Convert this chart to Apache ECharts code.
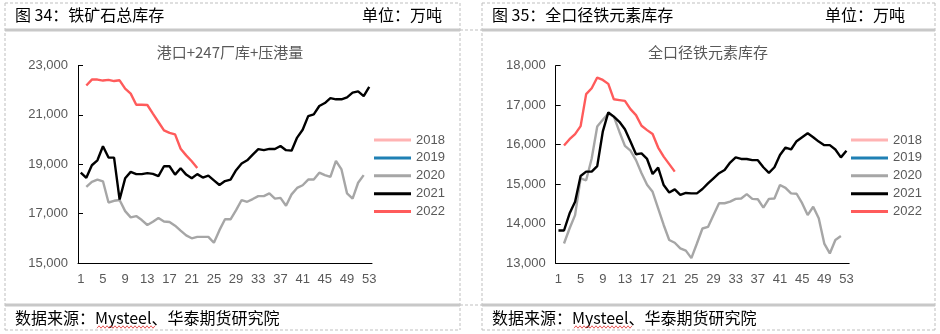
<!DOCTYPE html>
<html>
<head>
<meta charset="utf-8">
<script src="https://cdn.jsdelivr.net/npm/echarts@6/dist/echarts.min.js"></script>
<style>
  html, body { margin: 0; padding: 0; background: #fff; }
  #chart { width: 940px; height: 334px; }
</style>
</head>
<body>
<div id="chart"></div>
<script>
// Week numbers on the category axis
const weeks = Array.from({ length: 53 }, (_, i) => String(i + 1));
const years = ['2018', '2019', '2020', '2021', '2022'];
const yearColors = ['#FFB3B3', '#1F80B4', '#A6A6A6', '#000000', '#FF5B5B'];

// 铁矿石总库存（港口+247厂库+压港量），万吨, by week
const ore2018 = [];
const ore2019 = [];
const ore2020 = [null,
  18080, 18290, 18380, 18310, 17450, 17520, 17550, 17100, 16850, 16900,
  16740, 16540, 16670, 16820, 16680, 16660, 16510, 16310, 16120, 16000,
  16060, 16060, 16060, 15820, 16330, 16770, 16770, 17140, 17550, 17480,
  17590, 17710, 17710, 17820, 17610, 17640, 17320, 17780, 18040, 18150,
  18380, 18380, 18660, 18560, 18490, 19140, 18790, 17820, 17610, 18250,
  18560];
const ore2021 = [
  18660, 18450, 18960, 19160, 19730, 19270, 19270, 17570, 18430, 18690,
  18600, 18600, 18640, 18610, 18520, 18920, 18920, 18580, 18840, 18580,
  18430, 18600, 18460, 18540, 18350, 18160, 18320, 18380, 18760, 19030,
  19160, 19390, 19610, 19570, 19620, 19620, 19740, 19570, 19550, 20080,
  20400, 20950, 21020, 21360, 21480, 21680, 21630, 21630, 21710, 21900,
  21950, 21760, 22130];
const ore2022 = [null,
  22190, 22430, 22430, 22390, 22420, 22370, 22400, 22060, 21860, 21410,
  21410, 21400, 21050, 20710, 20370, 20270, 20210, 19630, 19360, 19120,
  18850];

// 全口径铁元素库存，万吨, by week
const fe2018 = [];
const fe2019 = [];
const fe2020 = [null,
  13500, 13880, 14220, 15150, 15100, 15650, 16460, 16630, 16790, 16710,
  16330, 15970, 15850, 15610, 15280, 14990, 14810, 14390, 13970, 13590,
  13520, 13380, 13320, 13130, 13500, 13880, 13920, 14220, 14520, 14520,
  14560, 14630, 14640, 14750, 14630, 14620, 14410, 14630, 14640, 14980,
  14910, 14770, 14760, 14520, 14220, 14430, 14140, 13500, 13250, 13590,
  13690];
const fe2021 = [
  13830, 13830, 14260, 14560, 15210, 15320, 15320, 15460, 16330, 16820,
  16710, 16580, 16390, 16080, 15760, 15780, 15640, 15260, 15420, 14980,
  14790, 14870, 14730, 14780, 14770, 14770, 14880, 15020, 15150, 15280,
  15360, 15550, 15680, 15640, 15640, 15610, 15610, 15430, 15290, 15430,
  15740, 15930, 15880, 16090, 16190, 16290, 16190, 16080, 15990, 15990,
  15880, 15680, 15850];
const fe2022 = [null,
  15980, 16140, 16270, 16470, 17280, 17430, 17700, 17640, 17540, 17150,
  17130, 17110, 16900, 16750, 16480, 16370, 16270, 15930, 15700, 15510,
  15320];

const oreSeries = [ore2018, ore2019, ore2020, ore2021, ore2022];
const feSeries = [fe2018, fe2019, fe2020, fe2021, fe2022];

const TXT = '#595959';
const FONT = '"Noto Sans CJK SC", "Liberation Sans", sans-serif';
const BORDER = '#BFBFBF';

function xAxisFor(gridIndex) {
  return {
    type: 'category', gridIndex, data: weeks, boundaryGap: true,
    axisLine: { lineStyle: { color: '#000', width: 1 } },
    axisTick: { inside: true, length: 4, interval: 0, lineStyle: { color: '#000' } },
    axisLabel: { interval: 3, margin: 10, color: TXT, fontSize: 13, fontFamily: 'Liberation Sans' },
    splitLine: { show: false }
  };
}
function yAxisFor(gridIndex, min, max, interval) {
  return {
    type: 'value', gridIndex, min, max, interval,
    axisLine: { show: true, lineStyle: { color: '#000', width: 1 } },
    axisTick: { show: true, inside: true, length: 5, lineStyle: { color: '#000' } },
    axisLabel: {
      margin: 10, color: TXT, fontSize: 13, fontFamily: 'Liberation Sans',
      formatter: v => v.toLocaleString('en-US')
    },
    splitLine: { show: false }
  };
}
function legendAt(left) {
  return {
    orient: 'vertical', left, top: 128, itemWidth: 37, itemHeight: 3, itemGap: 3.9,
    icon: 'rect', data: years,
    textStyle: { color: TXT, fontSize: 13, fontFamily: 'Liberation Sans', lineHeight: 14 },
    selectedMode: false
  };
}
function seriesFor(arrs, idx) {
  return arrs.map((d, k) => ({
    name: years[k], type: 'line', xAxisIndex: idx, yAxisIndex: idx, data: d,
    showSymbol: false, symbol: 'none', connectNulls: false,
    lineStyle: { width: 2.4, color: yearColors[k] }, itemStyle: { color: yearColors[k] },
    animation: false
  }));
}

// Panel frames, header/footer bars and their captions
function dashed(x1, y1, x2, y2) {
  return { type: 'line', shape: { x1, y1, x2, y2 }, silent: true,
    style: { stroke: BORDER, lineWidth: 1, lineDash: [3, 2] } };
}
function bar(x, y, w) {
  return { type: 'rect', shape: { x, y, width: w, height: 3 }, silent: true, style: { fill: '#C8C8C8' } };
}
function text(x, y, s, opts) {
  return { type: 'text', x, y, silent: true,
    style: Object.assign({ text: s, fill: '#000', font: '16px ' + FONT, textVerticalAlign: 'middle' }, opts || {}) };
}
function squiggle(x0, x1, y) {
  const pts = [];
  for (let x = x0, k = 0; x <= x1; x += 2, k++) pts.push([x, y + (k % 2 ? -1.2 : 1.2)]);
  return { type: 'polyline', shape: { points: pts }, silent: true, style: { stroke: '#E03030', lineWidth: 0.8, fill: null } };
}

const graphics = [
  // left panel frame
  dashed(5, 3, 460, 3), dashed(5, 3, 5, 330), dashed(460, 3, 460, 330), dashed(5, 330, 460, 330),
  // right panel frame
  dashed(482, 3, 935, 3), dashed(482, 3, 482, 330), dashed(935, 3, 935, 330), dashed(482, 330, 935, 330),
  // connectors between panels
  dashed(460, 30, 482, 30), dashed(460, 305, 482, 305),
  bar(5, 28.5, 455), bar(482, 28.5, 453),
  bar(5, 303.5, 455), bar(482, 303.5, 453),
  text(15, 15, '图 34：铁矿石总库存'),
  text(442, 15, '单位：万吨', { textAlign: 'right' }),
  text(492, 15, '图 35：全口径铁元素库存'),
  text(905, 15, '单位：万吨', { textAlign: 'right' }),
  text(15, 318, '数据来源：Mysteel、华泰期货研究院'),
  text(492, 318, '数据来源：Mysteel、华泰期货研究院'),
  squiggle(97, 155, 327), squiggle(574, 632, 327),
  text(230, 52, '港口+247厂库+压港量', { textAlign: 'center', fill: TXT, font: '15px ' + FONT }),
  text(708, 52, '全口径铁元素库存', { textAlign: 'center', fill: TXT, font: '15px ' + FONT })
];

const chart = echarts.init(document.getElementById('chart'), null, { renderer: 'canvas' });
chart.setOption({
  animation: false,
  backgroundColor: '#fff',
  grid: [
    { left: 78, top: 65.5, width: 294, height: 197.5 },
    { left: 555.7, top: 65.7, width: 293.5, height: 197.6 }
  ],
  xAxis: [xAxisFor(0), xAxisFor(1)],
  yAxis: [yAxisFor(0, 15000, 23000, 2000), yAxisFor(1, 13000, 18000, 1000)],
  legend: [legendAt(369), legendAt(846)],
  series: seriesFor(oreSeries, 0).concat(seriesFor(feSeries, 1)),
  graphic: graphics
});
</script>
</body>
</html>
